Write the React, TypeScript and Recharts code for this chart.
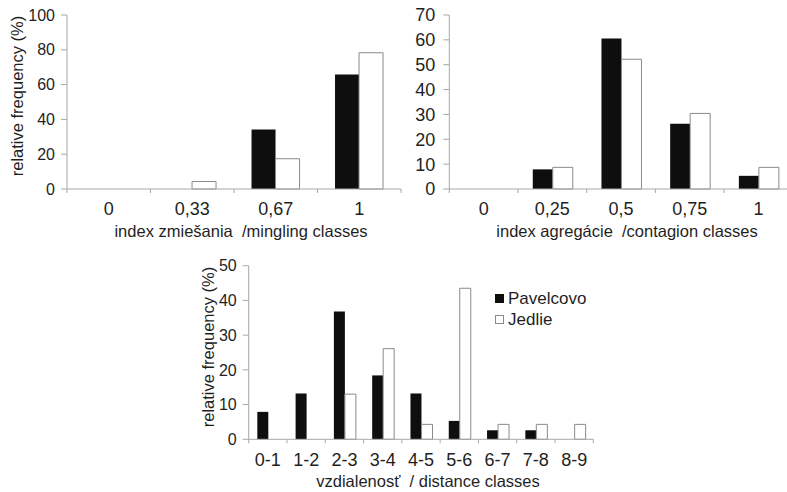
import React from 'react';
import { BarChart, Bar, XAxis, YAxis, Legend } from 'recharts';

const minglingClasses = ['0', '0,33', '0,67', '1'];
const minglingPavelcovo = [0, 0, 34.2, 65.8];
const minglingJedlie = [0, 4.3, 17.4, 78.3];

const contagionClasses = ['0', '0,25', '0,5', '0,75', '1'];
const contagionPavelcovo = [0, 7.9, 60.5, 26.3, 5.3];
const contagionJedlie = [0, 8.7, 52.2, 30.4, 8.7];

const distanceClasses = ['0-1', '1-2', '2-3', '3-4', '4-5', '5-6', '6-7', '7-8', '8-9'];
const distancePavelcovo = [7.9, 13.2, 36.8, 18.4, 13.2, 5.3, 2.6, 2.6, 0];
const distanceJedlie = [0, 0, 13.0, 26.1, 4.3, 43.5, 4.3, 4.3, 4.3];

const minglingTicks = [0, 20, 40, 60, 80, 100];
const contagionTicks = [0, 10, 20, 30, 40, 50, 60, 70];
const distanceTicks = [0, 10, 20, 30, 40, 50];

const build = (cats: string[], a: number[], b: number[]) =>
  cats.map((c, i) => ({ name: c, Pavelcovo: a[i], Jedlie: b[i] }));

const minglingData = build(minglingClasses, minglingPavelcovo, minglingJedlie);
const contagionData = build(contagionClasses, contagionPavelcovo, contagionJedlie);
const distanceData = build(distanceClasses, distancePavelcovo, distanceJedlie);

const FONT = '"Liberation Sans", Arial, sans-serif';
const TEXT = '#1f1f1f';
const AXIS = '#a8a8a8';
const BLACK = '#0e0e0e';
const OUTLINE = '#8a8a8a';

const makeXTick = (bandWidth: number, count: number, fontSize: number, labelDy: number) => (props: any) => {
  const { x, y, payload, index } = props;
  const left = x - bandWidth / 2;
  return (
    <g>
      <line x1={left} x2={left} y1={y} y2={y + 4} stroke={AXIS} />
      {index === count - 1 && (
        <line x1={x + bandWidth / 2} x2={x + bandWidth / 2} y1={y} y2={y + 4} stroke={AXIS} />
      )}
      <text x={x} y={y + labelDy} textAnchor="middle" fontSize={fontSize} fill={TEXT} fontFamily={FONT}>
        {payload.value}
      </text>
    </g>
  );
};

const xTitle = (text: string, dx: number, dy: number) => ({
  content: (p: any) => {
    const vb = p.viewBox || { x: 0, y: 0, width: 0, height: 0 };
    return (
      <text
        x={vb.x + vb.width / 2 + dx}
        y={vb.y + dy}
        textAnchor="middle"
        fontSize={16.5}
        fill={TEXT}
        fontFamily={FONT}
        style={{ whiteSpace: 'pre' }}
      >
        {text}
      </text>
    );
  },
});

const yTitle = (text: string, cx: number, dy: number) => ({
  content: (p: any) => {
    const vb = p.viewBox || { x: 0, y: 0, width: 0, height: 0 };
    const x = cx;
    const y = vb.y + vb.height / 2 + dy;
    return (
      <text
        x={x}
        y={y}
        transform={`rotate(-90 ${x} ${y})`}
        textAnchor="middle"
        dominantBaseline="central"
        fontSize={16.5}
        fill={TEXT}
        fontFamily={FONT}
      >
        {text}
      </text>
    );
  },
});

const LegendContent = () => (
  <div style={{ fontFamily: FONT, fontSize: 17, color: TEXT, lineHeight: '21px', whiteSpace: 'nowrap' }}>
    <div style={{ display: 'flex', alignItems: 'center' }}>
      <span style={{ width: 9, height: 9, background: BLACK, display: 'inline-block', marginRight: 4 }} />
      Pavelcovo
    </div>
    <div style={{ display: 'flex', alignItems: 'center' }}>
      <span style={{ width: 7, height: 7, background: '#fff', border: `1px solid ${OUTLINE}`, display: 'inline-block', marginRight: 4 }} />
      Jedlie
    </div>
  </div>
);

export default function App() {
  const c1 = { w: 420, h: 250, top: 15, right: 19, yw: 67, xh: 61 };
  const c1Band = (c1.w - c1.right - c1.yw) / minglingClasses.length;
  const c2 = { w: 420, h: 250, top: 15, right: 7.2, yw: 69.3, xh: 61 };
  const c2Band = (c2.w - c2.right - c2.yw) / contagionClasses.length;
  const c3 = { w: 430, h: 242, top: 15.7, right: 16.7, yw: 68.7, xh: 52.7 };
  const c3Band = (c3.w - c3.right - c3.yw) / distanceClasses.length;

  return (
    <div
      style={{
        position: 'absolute',
        left: 0,
        top: 0,
        width: 787,
        height: 492,
        overflow: 'hidden',
        background: '#fff',
        fontFamily: FONT,
      }}
    >
      <div style={{ position: 'absolute', left: 0, top: 0 }}>
        <BarChart
          width={c1.w}
          height={c1.h}
          data={minglingData}
          margin={{ top: c1.top, right: c1.right, left: 0, bottom: 0 }}
          barCategoryGap="21%"
          barGap={0}
        >
          <XAxis
            dataKey="name"
            height={c1.xh}
            stroke={AXIS}
            tickLine={false}
            tickSize={0}
            tickMargin={0}
            interval={0}
            tick={makeXTick(c1Band, minglingClasses.length, 18, 26)}
            label={xTitle('index zmiešania  /mingling classes', 7, 48)}
          />
          <YAxis
            width={c1.yw}
            domain={[0, 100]}
            ticks={minglingTicks}
            interval={0}
            stroke={AXIS}
            tickSize={6}
            tickMargin={6}
            tick={{ fontSize: 16, fill: TEXT, fontFamily: FONT }}
            label={yTitle('relative frequency (%)', 16.5, -6)}
          />
          <Bar dataKey="Pavelcovo" fill={BLACK} isAnimationActive={false} />
          <Bar dataKey="Jedlie" fill="#fff" stroke={OUTLINE} strokeWidth={1} isAnimationActive={false} />
        </BarChart>
      </div>

      <div style={{ position: 'absolute', left: 380, top: 0 }}>
        <BarChart
          width={c2.w}
          height={c2.h}
          data={contagionData}
          margin={{ top: c2.top, right: c2.right, left: 0, bottom: 0 }}
          barCategoryGap="21.5%"
          barGap={0}
        >
          <XAxis
            dataKey="name"
            height={c2.xh}
            stroke={AXIS}
            tickLine={false}
            tickSize={0}
            tickMargin={0}
            interval={0}
            tick={makeXTick(c2Band, contagionClasses.length, 18, 26)}
            label={xTitle('index agregácie  /contagion classes', 6, 48)}
          />
          <YAxis
            width={c2.yw}
            domain={[0, 70]}
            ticks={contagionTicks}
            interval={0}
            stroke={AXIS}
            tickSize={6}
            tickMargin={8}
            tick={{ fontSize: 18, fill: TEXT, fontFamily: FONT }}
          />
          <Bar dataKey="Pavelcovo" fill={BLACK} isAnimationActive={false} />
          <Bar dataKey="Jedlie" fill="#fff" stroke={OUTLINE} strokeWidth={1} isAnimationActive={false} />
        </BarChart>
      </div>

      <div style={{ position: 'absolute', left: 180, top: 250 }}>
        <BarChart
          width={c3.w}
          height={c3.h}
          data={distanceData}
          margin={{ top: c3.top, right: c3.right, left: 0, bottom: 0 }}
          barCategoryGap="22.5%"
          barGap={0}
        >
          <XAxis
            dataKey="name"
            height={c3.xh}
            stroke={AXIS}
            tickLine={false}
            tickSize={0}
            tickMargin={0}
            interval={0}
            tick={makeXTick(c3Band, distanceClasses.length, 18, 27)}
            label={xTitle('vzdialenosť  / distance classes', 7, 48)}
          />
          <YAxis
            width={c3.yw}
            domain={[0, 50]}
            ticks={distanceTicks}
            interval={0}
            stroke={AXIS}
            tickSize={6}
            tickMargin={6}
            tick={{ fontSize: 16, fill: TEXT, fontFamily: FONT }}
            label={yTitle('relative frequency (%)', 27.5, -5.5)}
          />
          <Legend
            verticalAlign="middle"
            align="center"
            layout="vertical"
            content={<LegendContent />}
            wrapperStyle={{ position: 'absolute', left: 315, top: 38, width: 'auto', height: 'auto' }}
          />
          <Bar dataKey="Pavelcovo" fill={BLACK} isAnimationActive={false} />
          <Bar dataKey="Jedlie" fill="#fff" stroke={OUTLINE} strokeWidth={1} isAnimationActive={false} />
        </BarChart>
      </div>
    </div>
  );
}
